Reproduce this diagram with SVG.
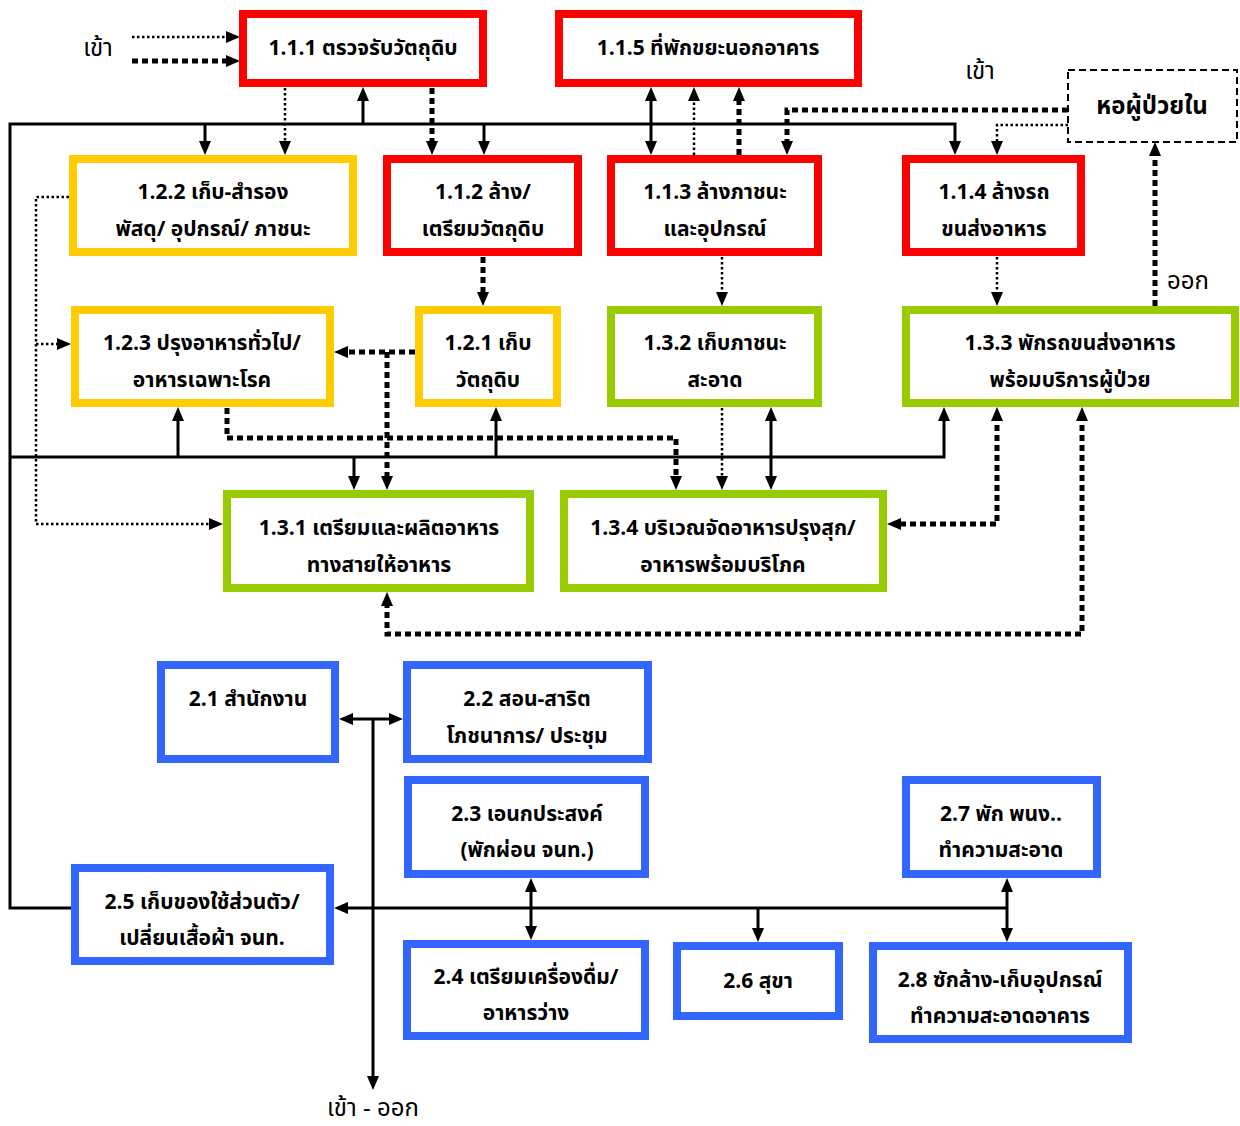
<svg xmlns="http://www.w3.org/2000/svg" width="1240" height="1126" viewBox="0 0 1240 1126">
<style>
.bx{fill:#fff;stroke-width:8}
.r{stroke:#FF0000}.y{stroke:#FFCC00}.g{stroke:#99CC00}.b{stroke:#3366FF}
.hw{fill:#fff;stroke:#000;stroke-width:2;stroke-dasharray:7 4}
text{font-family:"Noto Sans Thai","Noto Sans","DejaVu Sans",sans-serif;font-size:21px;font-weight:bold;fill:#000;text-anchor:middle}
text.n{font-weight:normal;font-size:24px}
.s{fill:none;stroke:#000;stroke-width:3}
.d{fill:none;stroke:#000;stroke-width:2.5;stroke-dasharray:2.5 2.5}
.t{fill:none;stroke:#000;stroke-width:5;stroke-dasharray:6 4}
</style>
<defs>
<marker id="a" viewBox="0 0 14 12" markerWidth="14" markerHeight="12" refX="6" refY="6" orient="auto-start-reverse" markerUnits="userSpaceOnUse">
<path d="M0,0 L14,6 L0,12 z" fill="#000"/>
</marker>
</defs>
<rect width="1240" height="1126" fill="#fff"/>
<g id="connectors">
<path class="s" d="M72,908 H10 V124 H955 V147" marker-end="url(#a)"/>
<path class="s" d="M205,124 V147" marker-end="url(#a)"/>
<path class="s" d="M484,124 V147" marker-end="url(#a)"/>
<path class="s" d="M363,124 V95" marker-end="url(#a)"/>
<path class="s" d="M651,95 V147" marker-start="url(#a)" marker-end="url(#a)"/>
<path class="s" d="M10,457 H944 V415" marker-end="url(#a)"/>
<path class="s" d="M178,457 V415" marker-end="url(#a)"/>
<path class="s" d="M496,457 V415" marker-end="url(#a)"/>
<path class="s" d="M354,457 V482" marker-end="url(#a)"/>
<path class="s" d="M771,415 V482" marker-start="url(#a)" marker-end="url(#a)"/>
<path class="s" d="M373,719 V1082" marker-end="url(#a)"/>
<path class="s" d="M347,719 H395" marker-start="url(#a)" marker-end="url(#a)"/>
<path class="s" d="M1007,908 H342" marker-end="url(#a)"/>
<path class="s" d="M531,886 V932" marker-start="url(#a)" marker-end="url(#a)"/>
<path class="s" d="M758,908 V934" marker-end="url(#a)"/>
<path class="s" d="M1007,886 V934" marker-start="url(#a)" marker-end="url(#a)"/>
<path class="d" d="M132,37 H232" marker-end="url(#a)"/>
<path class="d" d="M285,88 V147" marker-end="url(#a)"/>
<path class="d" d="M694,155 V95" marker-end="url(#a)"/>
<path class="d" d="M1068,125 H997 V147" marker-end="url(#a)"/>
<path class="d" d="M722,257 V298" marker-end="url(#a)"/>
<path class="d" d="M997,257 V298" marker-end="url(#a)"/>
<path class="d" d="M69,197 H36 V524 H215" marker-end="url(#a)"/>
<path class="d" d="M36,344 H63" marker-end="url(#a)"/>
<path class="d" d="M722,408 V482" marker-end="url(#a)"/>
<path class="t" d="M132,61 H232" marker-end="url(#a)"/>
<path class="t" d="M432,88 V147" marker-end="url(#a)"/>
<path class="t" d="M739,155 V95" marker-end="url(#a)"/>
<path class="t" d="M1068,110 H787 V147" marker-end="url(#a)"/>
<path class="t" d="M1155,306 V150" marker-end="url(#a)"/>
<path class="t" d="M483,257 V298" marker-end="url(#a)"/>
<path class="t" d="M415,352 H342" marker-end="url(#a)"/>
<path class="t" d="M387,352 V482" marker-end="url(#a)"/>
<path class="t" d="M227,408 V438 H676 V482" marker-end="url(#a)"/>
<path class="t" d="M997,415 V524 H895" marker-start="url(#a)" marker-end="url(#a)"/>
<path class="t" d="M1082,415 V634 H387 V600" marker-start="url(#a)" marker-end="url(#a)"/>
</g>
<g id="labels">
<text class="n" x="98" y="56">เข้า</text>
<text class="n" x="980" y="79">เข้า</text>
<text class="n" x="1188" y="289">ออก</text>
<text class="n" x="373" y="1116">เข้า - ออก</text>
</g>
<g id="n111"><rect class="bx r" x="243" y="14" width="240" height="69"/><text x="363" y="55">1.1.1 ตรวจรับวัตถุดิบ</text></g>
<g id="n115"><rect class="bx r" x="559" y="14" width="299" height="69"/><text x="708" y="55">1.1.5 ที่พักขยะนอกอาคาร</text></g>
<g id="ward"><rect class="hw" x="1068" y="70" width="169" height="72"/><text x="1152" y="114" style="font-size:24px">หอผู้ป่วยใน</text></g>
<g id="n122"><rect class="bx y" x="73" y="159" width="280" height="93"/><text x="213" y="199">1.2.2 เก็บ-สำรอง</text><text x="213" y="236">พัสดุ/ อุปกรณ์/ ภาชนะ</text></g>
<g id="n112"><rect class="bx r" x="387" y="159" width="191" height="93"/><text x="483" y="199">1.1.2 ล้าง/</text><text x="483" y="236">เตรียมวัตถุดิบ</text></g>
<g id="n113"><rect class="bx r" x="611" y="159" width="207" height="93"/><text x="715" y="199">1.1.3 ล้างภาชนะ</text><text x="715" y="236">และอุปกรณ์</text></g>
<g id="n114"><rect class="bx r" x="906" y="159" width="175" height="93"/><text x="994" y="199">1.1.4 ล้างรถ</text><text x="994" y="236">ขนส่งอาหาร</text></g>
<g id="n123"><rect class="bx y" x="75" y="310" width="255" height="93"/><text x="202" y="350">1.2.3 ปรุงอาหารทั่วไป/</text><text x="202" y="387">อาหารเฉพาะโรค</text></g>
<g id="n121"><rect class="bx y" x="419" y="310" width="138" height="93"/><text x="488" y="350">1.2.1 เก็บ</text><text x="488" y="387">วัตถุดิบ</text></g>
<g id="n132"><rect class="bx g" x="611" y="310" width="207" height="93"/><text x="715" y="350">1.3.2 เก็บภาชนะ</text><text x="715" y="387">สะอาด</text></g>
<g id="n133"><rect class="bx g" x="906" y="310" width="329" height="93"/><text x="1070" y="350">1.3.3 พักรถขนส่งอาหาร</text><text x="1070" y="387">พร้อมบริการผู้ป่วย</text></g>
<g id="n131"><rect class="bx g" x="227" y="494" width="303" height="94"/><text x="379" y="535">1.3.1 เตรียมและผลิตอาหาร</text><text x="379" y="572">ทางสายให้อาหาร</text></g>
<g id="n134"><rect class="bx g" x="564" y="494" width="319" height="94"/><text x="723" y="535">1.3.4 บริเวณจัดอาหารปรุงสุก/</text><text x="723" y="572">อาหารพร้อมบริโภค</text></g>
<g id="n21"><rect class="bx b" x="161" y="665" width="174" height="94"/><text x="248" y="706">2.1 สำนักงาน</text></g>
<g id="n22"><rect class="bx b" x="407" y="665" width="241" height="94"/><text x="527" y="706">2.2 สอน-สาริต</text><text x="527" y="743">โภชนาการ/ ประชุม</text></g>
<g id="n23"><rect class="bx b" x="408" y="780" width="237" height="94"/><text x="527" y="821">2.3 เอนกประสงค์</text><text x="527" y="857">(พักผ่อน จนท.)</text></g>
<g id="n27"><rect class="bx b" x="906" y="780" width="191" height="94"/><text x="1001" y="821">2.7 พัก พนง..</text><text x="1001" y="857">ทำความสะอาด</text></g>
<g id="n25"><rect class="bx b" x="75" y="868" width="255" height="93"/><text x="202" y="909">2.5 เก็บของใช้ส่วนตัว/</text><text x="202" y="945">เปลี่ยนเสื้อผ้า จนท.</text></g>
<g id="n24"><rect class="bx b" x="407" y="944" width="238" height="92"/><text x="526" y="984">2.4 เตรียมเครื่องดื่ม/</text><text x="526" y="1020">อาหารว่าง</text></g>
<g id="n26"><rect class="bx b" x="677" y="946" width="162" height="70"/><text x="758" y="988">2.6 สุขา</text></g>
<g id="n28"><rect class="bx b" x="873" y="946" width="255" height="93"/><text x="1000" y="987">2.8 ซักล้าง-เก็บอุปกรณ์</text><text x="1000" y="1023">ทำความสะอาดอาคาร</text></g>
</svg>
